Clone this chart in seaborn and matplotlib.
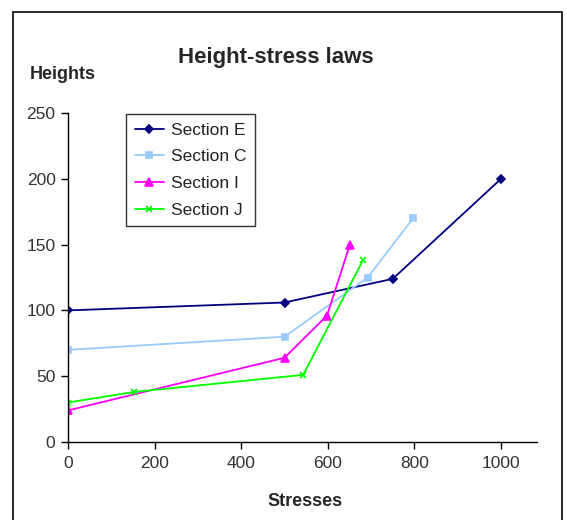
import matplotlib
matplotlib.use("Agg")
import matplotlib.pyplot as plt
import seaborn as sns
import pandas as pd
from matplotlib.patches import Rectangle

sns.set_style("white")
plt.rcParams['font.family'] = ['Liberation Sans', 'DejaVu Sans']

# Data
e_x = [0, 500, 750, 1000]
e_y = [100, 106, 124, 200]
c_x = [0, 500, 692, 797]
c_y = [70, 80, 125, 170]
i_x = [0, 500, 598, 651]
i_y = [24, 64, 96, 150]
j_x = [0, 152, 543, 681]
j_y = [30, 38, 51, 138]
series_names = ["Section E", "Section C", "Section I", "Section J"]
x_ticks = [0, 200, 400, 600, 800, 1000]
y_ticks = [0, 50, 100, 150, 200, 250]

colors = ["#000080", "#99CCFF", "#FF00FF", "#00FF00"]
markers = ["D", "s", "^", "x"]
msizes = [4, 4, 6, 4]
lws = [1.3, 1.3, 1.3, 1.3]

fig = plt.figure(figsize=(5.67, 5.2), dpi=100)
ax = fig.add_axes([68/567, 1-442/520, (537-68)/567, (442-113)/520])

frames = []
for name, xs, ys in zip(series_names, [e_x, c_x, i_x, j_x], [e_y, c_y, i_y, j_y]):
    frames.append(pd.DataFrame({"x": xs, "y": ys, "series": name}))
df = pd.concat(frames, ignore_index=True)

for name, col, mk, ms, lw in zip(series_names, colors, markers, msizes, lws):
    sub = df[df["series"] == name]
    sns.lineplot(data=sub, x="x", y="y", ax=ax, color=col, marker=mk,
                 markersize=ms, linewidth=lw, markeredgecolor=col,
                 markeredgewidth=1.2, label=name, sort=False)

ax.set_xlim(0, 1083)
ax.set_ylim(0, 250)
ax.set_xticks(x_ticks)
ax.set_yticks(y_ticks)
ax.tick_params(axis='both', direction='out', length=5, width=1, color='black',
               labelsize=12.5, labelcolor='#333333', left=True, bottom=True)
ax.tick_params(axis='x', pad=5)
ax.tick_params(axis='y', pad=4)
for s in ['top', 'right']:
    ax.spines[s].set_visible(False)
for s in ['left', 'bottom']:
    ax.spines[s].set_color('black')
    ax.spines[s].set_linewidth(1)
ax.set_xlabel("")
ax.set_ylabel("")

leg = ax.legend(loc='upper left', bbox_to_anchor=((126-68)/469, 1 - (114-113)/329),
                borderaxespad=0, frameon=True, fancybox=False, edgecolor='black',
                fontsize=12.5, handlelength=1.7, borderpad=0.5, labelspacing=0.66,
                handletextpad=0.4)
leg.get_frame().set_linewidth(1)
for t in leg.get_texts():
    t.set_color('#222222')

fig.text(276/567, 1-58/520, "Height-stress laws", ha='center', va='center',
         fontsize=16, fontweight='bold')
fig.text(30/567, 1-75/520, "Heights", ha='left', va='center',
         fontsize=13, fontweight='bold')
fig.text(305/567, 1-502/520, "Stresses", ha='center', va='center',
         fontsize=13, fontweight='bold')

fig.patches.append(Rectangle((13/567, -0.05), (562-13)/567, 1-12/520+0.05,
                             transform=fig.transFigure, fill=False,
                             edgecolor='black', linewidth=1.2))

fig.savefig("out.png", dpi=100)
